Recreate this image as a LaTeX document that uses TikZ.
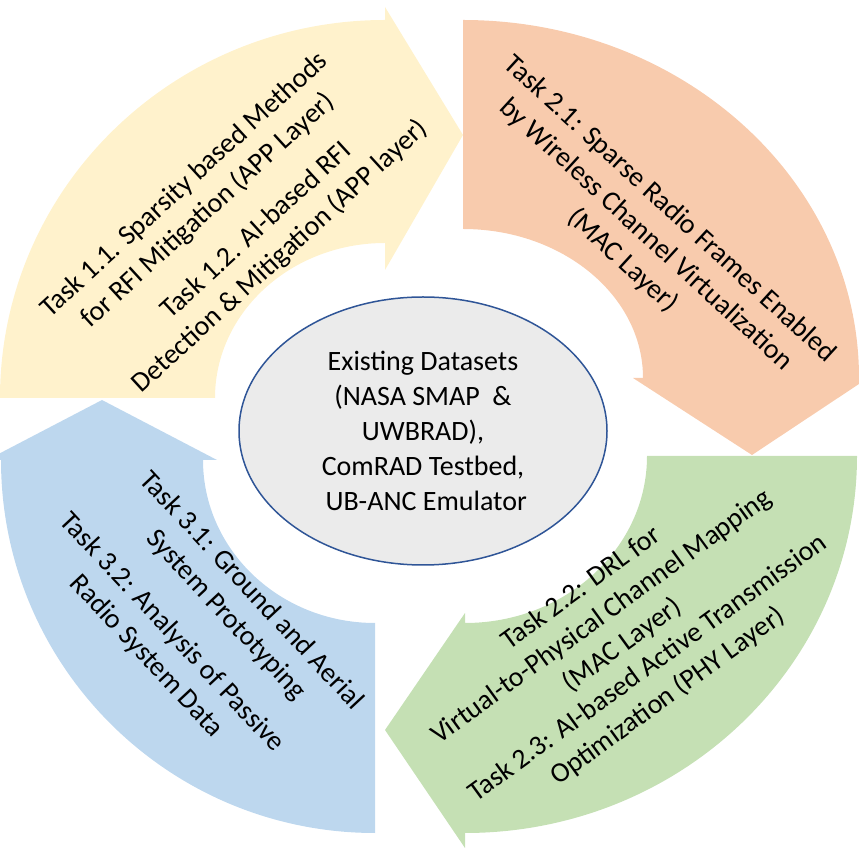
\documentclass[tikz,border=0pt]{standalone}
\usepackage{fontspec}
\setmainfont{Carlito}
\usetikzlibrary{shapes.geometric}
\definecolor{bandyellow}{HTML}{FFF2CC}
\definecolor{bandorange}{HTML}{F8CBAD}
\definecolor{bandgreen}{HTML}{C5E0B4}
\definecolor{bandblue}{HTML}{BDD7EE}
\definecolor{hubfill}{HTML}{EBEBEB}
\definecolor{hubline}{HTML}{2F5597}
\begin{document}
\begin{tikzpicture}[x=1pt,y=1pt,
  label/.style={font=\fontsize{28}{35}\selectfont, align=center, inner sep=0pt, text=black},
  hub/.style={ellipse, draw=hubline, line width=1.5pt, fill=hubfill, inner sep=0pt,
              minimum width=368pt, minimum height=268pt, font=\fontsize{28}{35}\selectfont, align=center}]
\useasboundingbox (0,0) rectangle (859,854);
\clip (0,0) rectangle (859,854);

% Quarter arrow 1 (top left), pointing right
\fill[bandyellow] (0,456) arc[start angle=180,end angle=90,x radius=385,y radius=378]
  -- (385,847) -- (463,719) -- (385,584) -- (385,611)
  arc[start angle=90,end angle=180,x radius=170,y radius=155] -- cycle;

% Quarter arrow 2 (top right), pointing down
\fill[bandorange] (463,834) arc[start angle=90,end angle=0,x radius=396,y radius=358]
  -- (868,476) -- (752,399) -- (633,476) -- (643,476)
  arc[start angle=0,end angle=90,x radius=180,y radius=149] -- cycle;

% Quarter arrow 3 (bottom right), pointing left
\fill[bandgreen] (857,398) arc[start angle=0,end angle=-90,x radius=392,y radius=377]
  -- (465,6) -- (385,124) -- (465,241) -- (465,231)
  arc[start angle=-90,end angle=0,x radius=182,y radius=167] -- cycle;

% Quarter arrow 4 (bottom left), pointing up
\fill[bandblue] (375,21) arc[start angle=-90,end angle=-180,x radius=374,y radius=373]
  -- (-13,394) -- (102,454) -- (217,394) -- (203,394)
  arc[start angle=180,end angle=270,x radius=172,y radius=163] -- cycle;

% Task labels
\node[label, rotate=42.5] (t11) at (196.5,656) {Task 1.1. Sparsity based Methods\\for RFI Mitigation (APP Layer)};
\node[label, rotate=42.5] (t12) at (268.5,610) {Task 1.2. AI-based RFI\\Detection \& Mitigation (APP layer)};
\node[label, rotate=-42.5] (t21) at (646,619) {Task 2.1: Sparse Radio Frames Enabled\\by Wireless Channel Virtualization\\(MAC Layer)};
\node[label, rotate=36] (t22) at (602,237) {Task 2.2: DRL for\\Virtual-to-Physical Channel Mapping\\(MAC Layer)};
\node[label, rotate=36] (t23) at (658,171.5) {Task 2.3: AI-based Active Transmission\\Optimization (PHY Layer)};
\node[label, rotate=-47] (t31) at (238.5,251) {Task 3.1: Ground and Aerial\\System Prototyping};
\node[label, rotate=-47] (t32) at (159,209.5) {Task 3.2: Analysis of Passive\\Radio System Data};

% Central data sources
\node[hub] (data) at (423,423) {Existing Datasets\\(NASA SMAP~~\&\\UWBRAD),\\ComRAD Testbed,\\~UB-ANC Emulator};
\end{tikzpicture}
\end{document}
